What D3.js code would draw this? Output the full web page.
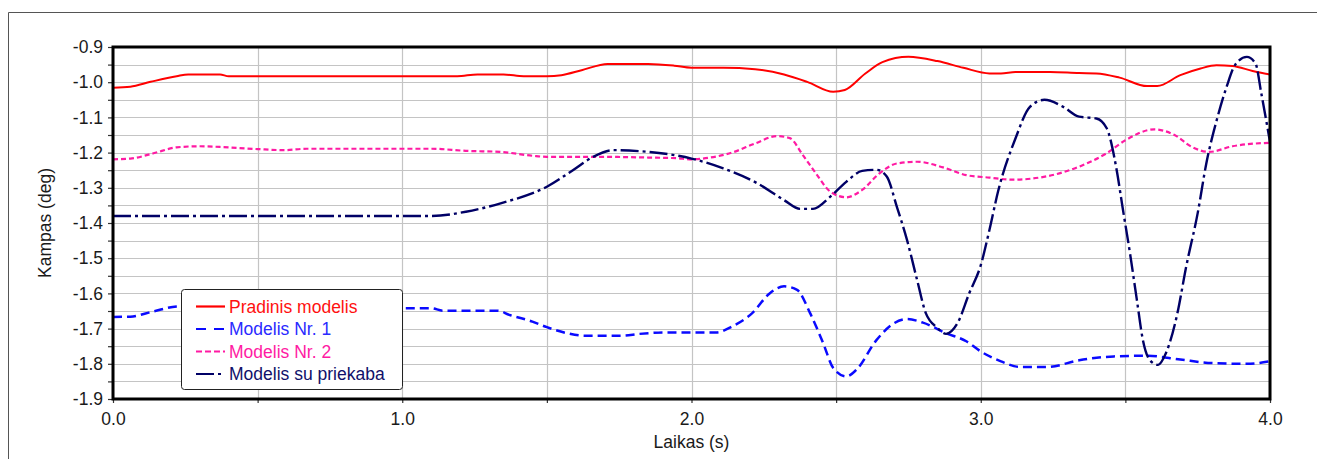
<!DOCTYPE html>
<html>
<head>
<meta charset="utf-8">
<script src="https://cdn.jsdelivr.net/npm/d3@7"></script>
<style>
  html, body { margin: 0; padding: 0; background: #fff; }
  svg { display: block; }
  text { font-family: "Liberation Sans", Arial, sans-serif; }
</style>
</head>
<body>
<svg id="chart" width="1317" height="459"></svg>
<script>
// Time (s) / angle (deg) samples for each model
const pradinisModelis = [
  [0,-1.016],[0.06,-1.013],[0.13,-0.999],[0.22,-0.983],[0.26,-0.978],[0.37,-0.978],[0.4,-0.983],
  [1.0,-0.983],[1.19,-0.983],[1.26,-0.978],[1.35,-0.978],[1.42,-0.983],[1.5,-0.983],[1.55,-0.980],
  [1.62,-0.966],[1.71,-0.948],[1.85,-0.948],[1.94,-0.953],[2.0,-0.959],[2.11,-0.959],[2.22,-0.963],
  [2.32,-0.978],[2.4,-0.999],[2.49,-1.027],[2.53,-1.022],[2.6,-0.976],[2.66,-0.943],[2.75,-0.928],
  [2.85,-0.94],[2.94,-0.959],[3.03,-0.975],[3.07,-0.975],[3.12,-0.971],[3.24,-0.971],[3.34,-0.974],
  [3.4,-0.975],[3.48,-0.987],[3.575,-1.011],[3.61,-1.011],[3.69,-0.98],[3.76,-0.961],[3.815,-0.952],
  [3.87,-0.954],[3.94,-0.968],[4.0,-0.978]
];
const modelisNr1 = [
  [0,-1.667],[0.06,-1.666],[0.14,-1.651],[0.22,-1.637],[0.35,-1.633],[0.6,-1.638],[0.85,-1.641],
  [1.0,-1.642],[1.1,-1.642],[1.14,-1.649],[1.33,-1.649],[1.37,-1.661],[1.45,-1.68],[1.5,-1.696],
  [1.57,-1.713],[1.63,-1.72],[1.76,-1.72],[1.82,-1.715],[1.91,-1.711],[2.085,-1.711],[2.14,-1.694],
  [2.21,-1.656],[2.27,-1.6],[2.32,-1.58],[2.365,-1.59],[2.41,-1.656],[2.455,-1.741],[2.49,-1.812],
  [2.535,-1.836],[2.57,-1.817],[2.64,-1.732],[2.7,-1.685],[2.745,-1.673],[2.8,-1.683],[2.88,-1.713],
  [2.95,-1.736],[3.0,-1.765],[3.07,-1.793],[3.135,-1.809],[3.23,-1.809],[3.34,-1.79],[3.46,-1.779],
  [3.575,-1.777],[3.69,-1.788],[3.8,-1.798],[3.92,-1.8],[4.0,-1.793]
];
const modelisNr2 = [
  [0,-1.219],[0.06,-1.217],[0.14,-1.202],[0.22,-1.185],[0.3,-1.182],[0.37,-1.184],[0.5,-1.19],
  [0.59,-1.193],[0.67,-1.189],[1.1,-1.189],[1.22,-1.195],[1.34,-1.198],[1.45,-1.209],[1.5,-1.212],
  [1.68,-1.212],[1.85,-1.214],[1.95,-1.216],[2.0,-1.219],[2.065,-1.214],[2.14,-1.2],[2.22,-1.174],
  [2.295,-1.153],[2.34,-1.159],[2.385,-1.207],[2.43,-1.259],[2.48,-1.311],[2.535,-1.327],[2.59,-1.306],
  [2.65,-1.259],[2.71,-1.231],[2.78,-1.226],[2.87,-1.242],[2.95,-1.264],[3.03,-1.271],[3.11,-1.277],
  [3.23,-1.267],[3.34,-1.24],[3.435,-1.202],[3.5,-1.165],[3.6,-1.134],[3.67,-1.15],[3.73,-1.184],
  [3.79,-1.198],[3.87,-1.182],[4.0,-1.172]
];
const modelisSuPriekaba = [
  [0,-1.38],[1.1,-1.38],[1.22,-1.368],[1.34,-1.344],[1.5,-1.297],[1.59,-1.25],[1.66,-1.212],
  [1.73,-1.193],[1.82,-1.196],[1.94,-1.207],[2.0,-1.217],[2.11,-1.245],[2.225,-1.286],[2.32,-1.335],
  [2.375,-1.36],[2.42,-1.36],[2.48,-1.325],[2.535,-1.283],[2.59,-1.252],[2.64,-1.249],[2.675,-1.268],
  [2.71,-1.354],[2.745,-1.448],[2.78,-1.562],[2.81,-1.656],[2.85,-1.698],[2.88,-1.715],[2.92,-1.684],
  [2.96,-1.6],[3.0,-1.52],[3.03,-1.42],[3.06,-1.31],[3.12,-1.16],[3.17,-1.07],[3.22,-1.05],
  [3.285,-1.07],[3.34,-1.098],[3.4,-1.103],[3.435,-1.13],[3.47,-1.25],[3.49,-1.354],[3.516,-1.486],
  [3.54,-1.62],[3.56,-1.73],[3.585,-1.79],[3.613,-1.803],[3.64,-1.77],[3.68,-1.656],[3.71,-1.525],
  [3.75,-1.372],[3.78,-1.23],[3.816,-1.107],[3.85,-1.013],[3.88,-0.95],[3.92,-0.928],[3.95,-0.947],
  [3.97,-1.032],[4.0,-1.17]
];

const seriesNames = ["Pradinis modelis", "Modelis Nr. 1", "Modelis Nr. 2", "Modelis su priekaba"];
const xTickValues = [0, 0.5, 1, 1.5, 2, 2.5, 3, 3.5, 4];
const xTickLabels = ["0.0", "", "1.0", "", "2.0", "", "3.0", "", "4.0"];
const yTickValues = d3.range(0, 21).map(i => -0.9 - i * 0.05);
const yTickLabels = ["-0.9","","-1.0","","-1.1","","-1.2","","-1.3","","-1.4","","-1.5","","-1.6","","-1.7","","-1.8","","-1.9"];

const styles = [
  { color: "#ff0000", width: 2,   dash: null,       legendDash: null,       text: "#ff1010" },
  { color: "#0a0aff", width: 2.5, dash: "9,5",      legendDash: "10,8",     text: "#2a2aff" },
  { color: "#ff1aa3", width: 2.2, dash: "5,3",      legendDash: "6,3",      text: "#ff1aa3" },
  { color: "#000066", width: 2.4, dash: "18,4,3,4", legendDash: "18,4,3,4", text: "#10106a" }
];
const seriesData = [pradinisModelis, modelisNr1, modelisNr2, modelisSuPriekaba];

const svg = d3.select("#chart");
const plot = { left: 113, right: 1270, top: 47, bottom: 399 };

const x = d3.scaleLinear().domain([0, 4]).range([plot.left, plot.right]);
const y = d3.scaleLinear().domain([-1.9, -0.9]).range([plot.bottom, plot.top]);

// outer frame
svg.append("path")
  .attr("d", "M8.5,459 V12.5 H1317")
  .attr("fill", "none").attr("stroke", "#555").attr("stroke-width", 1);

// grid
const grid = svg.append("g");
grid.selectAll("line.h").data(yTickValues).join("line")
  .attr("x1", plot.left).attr("x2", plot.right)
  .attr("y1", d => Math.round(y(d)) + 0.5).attr("y2", d => Math.round(y(d)) + 0.5)
  .attr("stroke", "#c4c4c4").attr("stroke-width", 1.2);
grid.selectAll("line.v").data(xTickValues).join("line")
  .attr("y1", plot.top).attr("y2", plot.bottom)
  .attr("x1", d => Math.round(x(d)) + 0.5).attr("x2", d => Math.round(x(d)) + 0.5)
  .attr("stroke", "#c4c4c4").attr("stroke-width", 1.2);

// series
svg.append("clipPath").attr("id", "plotClip").append("rect")
  .attr("x", plot.left).attr("y", plot.top)
  .attr("width", plot.right - plot.left).attr("height", plot.bottom - plot.top);

const line = d3.line().x(d => x(d[0])).y(d => y(d[1])).curve(d3.curveMonotoneX);
const lines = svg.append("g").attr("clip-path", "url(#plotClip)");
seriesData.forEach((data, i) => {
  lines.append("path")
    .datum(data)
    .attr("d", line)
    .attr("fill", "none")
    .attr("stroke", styles[i].color)
    .attr("stroke-width", styles[i].width)
    .attr("stroke-dasharray", styles[i].dash)
    .attr("stroke-linejoin", "round");
});

// axes
const fontSize = "17.5px";
const yAxis = d3.axisLeft(y).tickValues(yTickValues).tickSize(5).tickPadding(5)
  .tickFormat((d, i) => yTickLabels[i]);
const gy = svg.append("g").attr("transform", `translate(${plot.left},0)`).call(yAxis);
const xAxis = d3.axisBottom(x).tickValues(xTickValues).tickSize(4).tickPadding(10)
  .tickFormat((d, i) => xTickLabels[i]);
const gx = svg.append("g").attr("transform", `translate(0,${plot.bottom})`).call(xAxis);
[gx, gy].forEach(g => {
  g.select(".domain").remove();
  g.selectAll(".tick line").attr("stroke", "#333").attr("stroke-width", 1.2);
  g.selectAll(".tick text").attr("fill", "#1a1a1a").style("font-size", fontSize)
    .style("font-family", '"Liberation Sans", Arial, sans-serif');
});

// plot border
svg.append("rect")
  .attr("x", plot.left).attr("y", plot.top)
  .attr("width", plot.right - plot.left).attr("height", plot.bottom - plot.top)
  .attr("fill", "none").attr("stroke", "#000").attr("stroke-width", 3);

// axis titles
svg.append("text")
  .attr("x", (plot.left + plot.right) / 2).attr("y", 448)
  .attr("text-anchor", "middle").attr("fill", "#1a1a1a").style("font-size", fontSize)
  .text("Laikas (s)");
svg.append("text")
  .attr("transform", "translate(51,223) rotate(-90)")
  .attr("text-anchor", "middle").attr("fill", "#1a1a1a").style("font-size", fontSize)
  .text("Kampas (deg)");

// legend
const legend = svg.append("g");
legend.append("rect")
  .attr("x", 181.5).attr("y", 289.5).attr("width", 221).attr("height", 100)
  .attr("rx", 3).attr("fill", "#fff").attr("stroke", "#222").attr("stroke-width", 1);
seriesNames.forEach((name, i) => {
  const cy = 306.5 + i * 22.5;
  legend.append("line")
    .attr("x1", 196).attr("x2", 225).attr("y1", cy).attr("y2", cy)
    .attr("stroke", styles[i].color).attr("stroke-width", 2.2)
    .attr("stroke-dasharray", styles[i].legendDash);
  legend.append("text")
    .attr("x", 229).attr("y", cy).attr("dy", "0.35em")
    .attr("fill", styles[i].text).style("font-size", fontSize)
    .text(name);
});
</script>
</body>
</html>
